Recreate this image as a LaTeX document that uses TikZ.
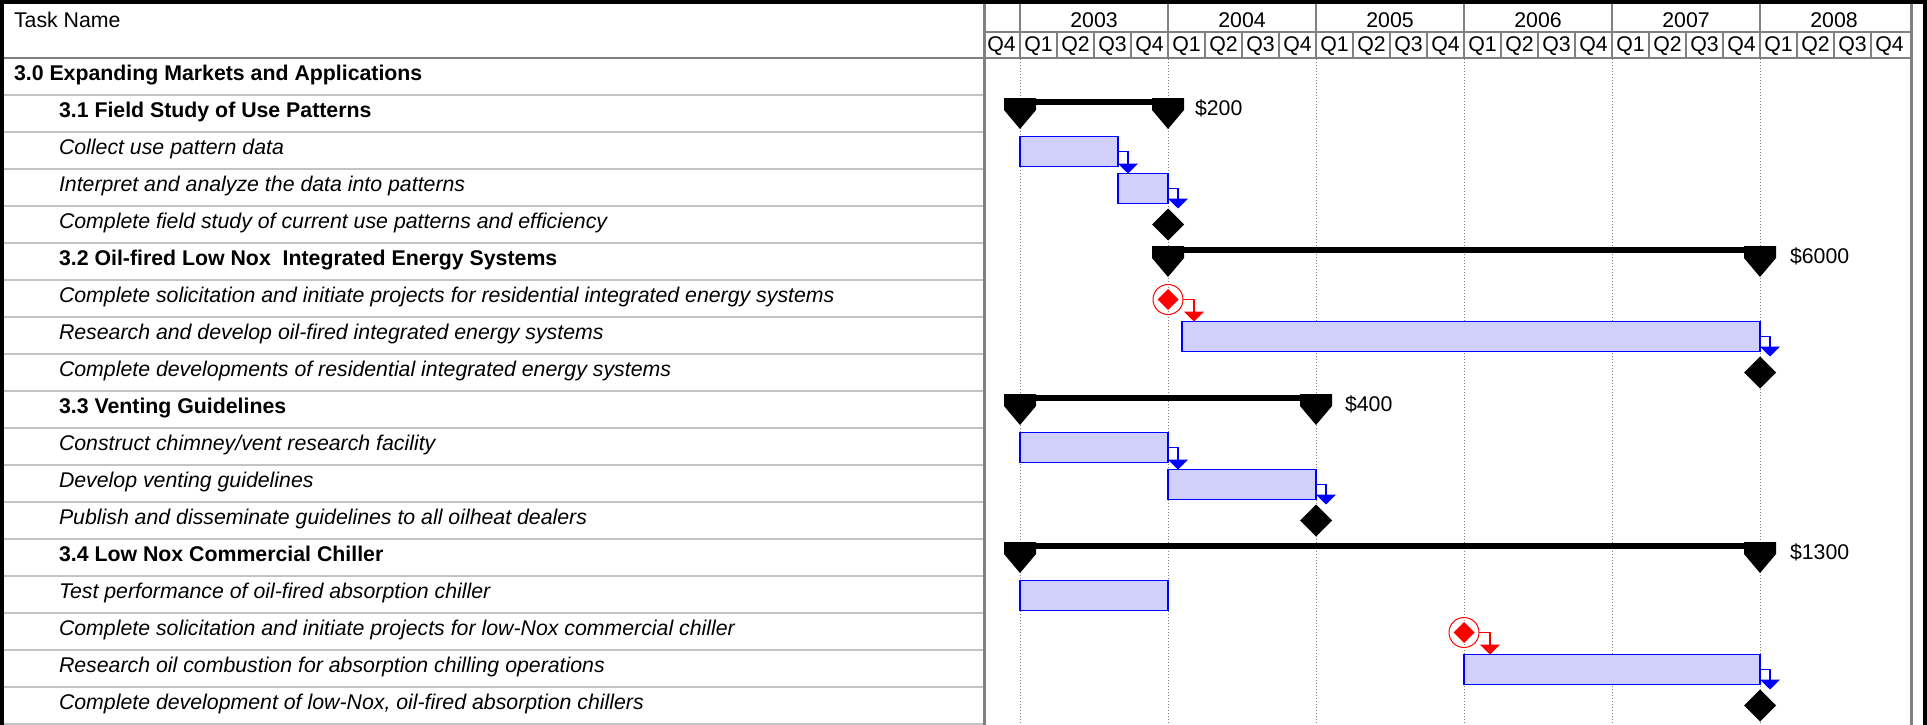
\documentclass[tikz,border=0pt]{standalone}
\usepackage{fontspec}
\setmainfont{Liberation Sans}
\usepackage{tikz}
\usetikzlibrary{positioning,shapes.geometric,arrows.meta}

\definecolor{barfill}{RGB}{208,208,250}
\definecolor{gridgray}{RGB}{128,128,128}
\definecolor{rulegray}{RGB}{195,195,195}

\begin{document}
\begin{tikzpicture}[
        x=1pt, y=-1pt,
        every node/.style = {inner sep=0pt, outer sep=0pt, font=\fontsize{21.3}{25}\selectfont},
        rowname/.style = {anchor=base west},
        sumrow/.style = {rowname, font=\fontsize{21.3}{25}\selectfont\bfseries},
        taskrow/.style = {rowname, font=\fontsize{21.3}{25}\selectfont\itshape},
        head/.style = {anchor=base},
        cost/.style = {anchor=base west},
        bar/.style = {draw=blue, line width=1.5pt, fill=barfill, minimum height=30pt, anchor=west},
        link/.style = {draw=blue, line width=1.5pt, -{Triangle[width=20pt,length=10pt]}},
        redlink/.style = {link, draw=red, line width=1.2pt},
        mile/.style = {diamond, fill=black, minimum size=32pt},
        redmile/.style = {circle, draw=red, line width=1pt, minimum size=30pt},
        reddia/.style = {diamond, fill=red, minimum size=21pt},
        sumline/.style = {line width=6pt},
        summark/.pic = {\fill (-16,-4) -- (16,-4) -- (16,8) -- (0,27) -- (-16,8) -- cycle;}
    ]
    \useasboundingbox (0,0) rectangle (1927,725);
%
    % frame and header grid
    \draw[line width=4pt] (0,2) -- (1927,2);
    \draw[line width=4pt] (2,0) -- (2,725);
    \draw[line width=4pt] (1925,0) -- (1925,725);
    \foreach \r in {1,...,18}
        \draw[rulegray, line width=1.5pt] (4,58+37*\r) -- (983,58+37*\r);
    \foreach \k in {1,5,...,21}
        \draw[gridgray, dotted, line width=1pt] (983+37*\k,59) -- (983+37*\k,725);
    \draw[gridgray, line width=2pt] (983,32) -- (1911,32);
    \draw[gridgray, line width=2pt] (4,58) -- (1911,58);
    \foreach \k in {1,...,24}
        \draw[gridgray, line width=1.5pt] (983+37*\k,32) -- (983+37*\k,58);
    \foreach \k in {1,5,...,21}
        \draw[gridgray, line width=1.5pt] (983+37*\k,4) -- (983+37*\k,32);
    \draw[gridgray, line width=3pt] (984.5,4) -- (984.5,725);
    \draw[gridgray, line width=3pt] (1911.5,4) -- (1911.5,725);
%
    \node[rowname] (tn) at (14,28) {Task Name};
    \foreach \yr [count=\i from 0] in {2003,...,2008}
        \node[head] (y\yr) at (1094+148*\i,28) {\yr};
    \foreach \k in {0,...,24}{
        \pgfmathtruncatemacro\qn{mod(\k+3,4)+1}
        \node[head] (q\k) at (1001.5+37*\k,52) {Q\qn};
    }
%
    % task names
    \node[sumrow]  (n0)  at (14,80.5)  {3.0 Expanding Markets and Applications};
    \node[sumrow]  (n1)  at (59,117.5) {3.1 Field Study of Use Patterns};
    \node[taskrow] (n2)  at (59,154.5) {Collect use pattern data};
    \node[taskrow] (n3)  at (59,191.5) {Interpret and analyze the data into patterns};
    \node[taskrow] (n4)  at (59,228.5) {Complete field study of current use patterns and efficiency};
    \node[sumrow]  (n5)  at (59,265.5) {3.2 Oil-fired Low Nox\ \ Integrated Energy Systems};
    \node[taskrow] (n6)  at (59,302.5) {Complete solicitation and initiate projects for residential integrated energy systems};
    \node[taskrow] (n7)  at (59,339.5) {Research and develop oil-fired integrated energy systems};
    \node[taskrow] (n8)  at (59,376.5) {Complete developments of residential integrated energy systems};
    \node[sumrow]  (n9)  at (59,413.5) {3.3 Venting Guidelines};
    \node[taskrow] (n10) at (59,450.5) {Construct chimney/vent research facility};
    \node[taskrow] (n11) at (59,487.5) {Develop venting guidelines};
    \node[taskrow] (n12) at (59,524.5) {Publish and disseminate guidelines to all oilheat dealers};
    \node[sumrow]  (n13) at (59,561.5) {3.4 Low Nox Commercial Chiller};
    \node[taskrow] (n14) at (59,598.5) {Test performance of oil-fired absorption chiller};
    \node[taskrow] (n15) at (59,635.5) {Complete solicitation and initiate projects for low-Nox commercial chiller};
    \node[taskrow] (n16) at (59,672.5) {Research oil combustion for absorption chilling operations};
    \node[taskrow] (n17) at (59,709.5) {Complete development of low-Nox, oil-fired absorption chillers};
%
    % summary bars
    \coordinate (s1a) at (1020,102);  \coordinate (s1b) at (1168,102);
    \coordinate (s5a) at (1168,250);  \coordinate (s5b) at (1760,250);
    \coordinate (s9a) at (1020,398);  \coordinate (s9b) at (1316,398);
    \coordinate (s13a) at (1020,546); \coordinate (s13b) at (1760,546);
    \draw[sumline] (s1a) -- (s1b);
    \draw[sumline] (s5a) -- (s5b);
    \draw[sumline] (s9a) -- (s9b);
    \draw[sumline] (s13a) -- (s13b);
    \pic at (s1a) {summark};  \pic at (s1b) {summark};
    \pic at (s5a) {summark};  \pic at (s5b) {summark};
    \pic at (s9a) {summark};  \pic at (s9b) {summark};
    \pic at (s13a) {summark}; \pic at (s13b) {summark};
    \node[cost] (c1)  at (1195,115) {\$200};
    \node[cost] (c5)  at (1790,263) {\$6000};
    \node[cost] (c9)  at (1345,411) {\$400};
    \node[cost] (c13) at (1790,559) {\$1300};
%
    % task bars
    \node[bar, minimum width=98pt]  (b2)  at (1020,151.5) {};
    \node[bar, minimum width=50pt]  (b3)  at (1118,188.5) {};
    \node[bar, minimum width=578pt] (b7)  at (1182,336.5) {};
    \node[bar, minimum width=148pt] (b10) at (1020,447.5) {};
    \node[bar, minimum width=148pt] (b11) at (1168,484.5) {};
    \node[bar, minimum width=148pt] (b14) at (1020,595.5) {};
    \node[bar, minimum width=296pt] (b16) at (1464,669.5) {};
%
    % milestones
    \node[mile] (m4)  at (1168,224.5) {};
    \node[mile] (m8)  at (1760,372.5) {};
    \node[mile] (m12) at (1316,520.5) {};
    \node[mile] (m17) at (1760,705.5) {};
    \node[redmile] (m6)  at (1168,299.5) {};
    \node[reddia]  (m6d) at (m6) {};
    \node[redmile] (m15) at (1464,632.5) {};
    \node[reddia]  (m15d) at (m15) {};
%
    % links
    \draw[link] (b2.east) -| ([xshift=10pt]b3.north west);
    \draw[link] (b3.east) -| ([xshift=10pt]m4.north);
    \draw[link] (b7.east) -| ([xshift=10pt]m8.north);
    \draw[link] (b10.east) -| ([xshift=10pt]b11.north west);
    \draw[link] (b11.east) -| ([xshift=10pt]m12.north);
    \draw[link] (b16.east) -| ([xshift=10pt]m17.north);
    \coordinate (j6) at ([xshift=11pt]m6.east);
    \draw[redlink] (m6.east) -- (j6) -- (j6 |- b7.north);
    \coordinate (j15) at ([xshift=11pt]m15.east);
    \draw[redlink] (m15.east) -- (j15) -- (j15 |- b16.north);
\end{tikzpicture}
\end{document}
